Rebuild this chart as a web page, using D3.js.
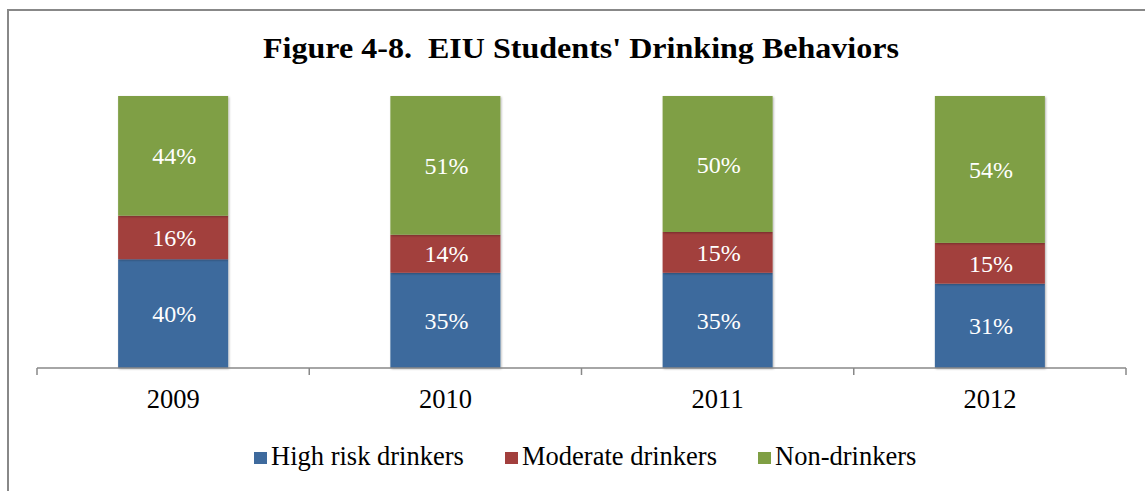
<!DOCTYPE html>
<html>
<head>
<meta charset="utf-8">
<script src="https://cdn.jsdelivr.net/npm/d3@7"></script>
<style>
  html, body { margin: 0; padding: 0; background: #fff; }
  svg { display: block; font-family: "Liberation Serif", "Times New Roman", serif; }
</style>
</head>
<body>
<div id="chart"></div>
<script>
(function () {
  // chart data
  const years = ['2009', '2010', '2011', '2012'];
  const seriesNames = ['High risk drinkers', 'Moderate drinkers', 'Non-drinkers'];
  const highRisk = [40, 35, 35, 31];
  const moderate = [16, 14, 15, 15];
  const nonDrinkers = [44, 51, 50, 54];
  const colors = ['#3e6a9d', '#a23f3d', '#7f9f44'];

  const width = 1145, height = 491;
  const svg = d3.select('#chart').append('svg')
    .attr('width', width)
    .attr('height', height);

  // soft shadow on the bars
  const defs = svg.append('defs');
  const f = defs.append('filter').attr('id', 'shadow')
    .attr('x', '-10%').attr('y', '-10%').attr('width', '130%').attr('height', '130%');
  f.append('feDropShadow').attr('dx', 1).attr('dy', 1).attr('stdDeviation', 1.2)
    .attr('flood-color', '#000').attr('flood-opacity', 0.3);

  // outer frame (only left and top are in the picture)
  svg.append('path')
    .attr('d', 'M8,' + height + ' V10 H' + width)
    .attr('fill', 'none')
    .attr('stroke', '#888')
    .attr('stroke-width', 2);

  // title
  svg.append('text')
    .attr('x', 263)
    .attr('y', 58)
    .attr('font-weight', 'bold')
    .attr('font-size', 30)
    .attr('textLength', 636)
    .attr('lengthAdjust', 'spacingAndGlyphs')
    .style('white-space', 'pre')
    .text("Figure 4-8.  EIU Students' Drinking Behaviors");

  const x = d3.scaleBand().domain(years).range([37, 1126]);
  const y = d3.scaleLinear().domain([0, 100]).range([368, 96]);
  const barW = 110;

  const rows = years.map((yr, i) => ({ year: yr, 0: highRisk[i], 1: moderate[i], 2: nonDrinkers[i] }));
  const stacked = d3.stack().keys([0, 1, 2])(rows);

  const g = svg.append('g');
  stacked.forEach((layer, k) => {
    g.append('g').selectAll('rect').data(layer).enter().append('rect')
      .attr('x', (d) => x(d.data.year) + x.bandwidth() / 2 - barW / 2)
      .attr('y', (d) => y(d[1]))
      .attr('width', barW)
      .attr('height', (d) => y(d[0]) - y(d[1]))
      .attr('fill', colors[k])
      .attr('filter', 'url(#shadow)');
  });

  // value labels, centred in each segment
  stacked.forEach((layer) => {
    g.append('g').selectAll('text').data(layer).enter().append('text')
      .attr('x', (d) => x(d.data.year) + x.bandwidth() / 2 + 1)
      .attr('y', (d) => (y(d[0]) + y(d[1])) / 2 + 8.5)
      .attr('text-anchor', 'middle')
      .attr('fill', '#fff')
      .attr('font-size', 24)
      .text((d) => (d[1] - d[0]) + '%');
  });

  // category axis
  const axis = svg.append('g').attr('transform', 'translate(0,368)');
  axis.append('line')
    .attr('x1', 37).attr('x2', 1126)
    .attr('stroke', '#888').attr('stroke-width', 1.5);
  const tickPos = years.map((yr) => x(yr)).concat([x.range()[1]]);
  axis.selectAll('line.tick').data(tickPos).enter().append('line')
    .attr('class', 'tick')
    .attr('x1', (d) => d).attr('x2', (d) => d)
    .attr('y1', 0).attr('y2', 7)
    .attr('stroke', '#888').attr('stroke-width', 1.5);
  axis.selectAll('text').data(years).enter().append('text')
    .attr('x', (d) => x(d) + x.bandwidth() / 2)
    .attr('y', 40)
    .attr('text-anchor', 'middle')
    .attr('font-size', 26.5)
    .attr('fill', '#000')
    .text((d) => d);

  // legend
  const legendX = [254, 505, 758];
  const legend = svg.append('g').attr('transform', 'translate(0,465)');
  seriesNames.forEach((name, i) => {
    legend.append('rect')
      .attr('x', legendX[i]).attr('y', -13)
      .attr('width', 13).attr('height', 12)
      .attr('fill', colors[i]);
    legend.append('text')
      .attr('x', legendX[i] + 17)
      .attr('y', 0)
      .attr('font-size', 26.5)
      .attr('fill', '#000')
      .text(name);
  });
})();
</script>
</body>
</html>
